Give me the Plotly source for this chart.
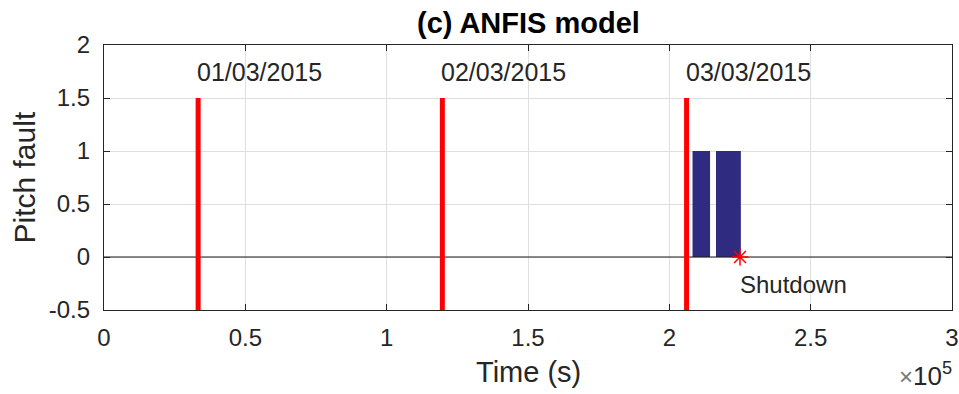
import plotly.graph_objects as go

# ---- data ----
day_marks_t = [33300, 119700, 206100]          # s
day_labels = ["01/03/2015", "02/03/2015", "03/03/2015"]
day_mark_top = 1.5
day_mark_bottom = -0.5

fault_t = [0, 208200, 208200, 214400, 214400, 216500, 216500, 225300, 225300, 300000]
fault_v = [0, 0, 1, 1, 0, 0, 1, 1, 0, 0]

shutdown_t = [225000]
shutdown_v = [0]

x_tickvals = [0, 50000, 100000, 150000, 200000, 250000, 300000]
x_ticktext = ["0", "0.5", "1", "1.5", "2", "2.5", "3"]
y_tickvals = [-0.5, 0, 0.5, 1, 1.5, 2]
y_ticktext = ["-0.5", "0", "0.5", "1", "1.5", "2"]

FONT = "Arial, Liberation Sans, Helvetica, sans-serif"
TXT = "#262626"

fig = go.Figure()

# fault signal (filled area)
fig.add_trace(go.Scatter(
    x=fault_t, y=fault_v, mode="lines", line=dict(width=0, color="#2E2B80"),
    fill="tozeroy", fillcolor="#2E2B80", showlegend=False, hoverinfo="skip"))

# zero line
fig.add_trace(go.Scatter(
    x=[x_tickvals[0], x_tickvals[-1]], y=[0, 0], mode="lines",
    line=dict(color="#1a1a1a", width=1.2), showlegend=False))

# day marker lines
for t in day_marks_t:
    fig.add_trace(go.Scatter(
        x=[t, t], y=[day_mark_bottom, day_mark_top], mode="lines",
        line=dict(color="#FF0000", width=5), showlegend=False))

# shutdown marker
fig.add_trace(go.Scatter(
    x=shutdown_t, y=shutdown_v, mode="markers",
    marker=dict(symbol="asterisk-open", size=14, color="#FF0000",
                line=dict(color="#FF0000", width=1.5)),
    showlegend=False))

annotations = []
for t, lab in zip(day_marks_t, day_labels):
    annotations.append(dict(x=t, y=1.75, xref="x", yref="y", text=lab, showarrow=False,
                            xanchor="left", yanchor="middle", xshift=-3,
                            font=dict(family=FONT, size=25, color=TXT)))
annotations.append(dict(x=shutdown_t[0], y=shutdown_v[0], xref="x", yref="y", text="Shutdown",
                        showarrow=False, xanchor="left", yanchor="middle", xshift=-2, yshift=-27,
                        font=dict(family=FONT, size=24, color=TXT)))
annotations.append(dict(x=0.5, y=1, xref="paper", yref="paper", text="<b>(c) ANFIS model</b>",
                        showarrow=False, xanchor="center", yanchor="middle", yshift=22,
                        font=dict(family=FONT, size=29, color="#000000")))
annotations.append(dict(x=0.5, y=0, xref="paper", yref="paper", text="Time (s)",
                        showarrow=False, xanchor="center", yanchor="middle", yshift=-62,
                        font=dict(family=FONT, size=29, color=TXT)))
annotations.append(dict(x=0, y=0.5, xref="paper", yref="paper", text="Pitch fault",
                        showarrow=False, xanchor="center", yanchor="middle", xshift=-80,
                        textangle=-90, font=dict(family=FONT, size=30, color=TXT)))
annotations.append(dict(x=1, y=0, xref="paper", yref="paper",
                        text="<span style='font-size:24px;color:#777777'>×</span>10<sup>5</sup>",
                        showarrow=False, xanchor="right", yanchor="middle", yshift=-64, xshift=2,
                        font=dict(family=FONT, size=26, color=TXT)))

fig.update_layout(
    width=959, height=394,
    margin=dict(l=104, r=7, t=45, b=84, autoexpand=False),
    paper_bgcolor="white", plot_bgcolor="white",
    showlegend=False,
    annotations=annotations,
    font=dict(family=FONT, size=24, color=TXT),
)
fig.update_xaxes(
    range=[x_tickvals[0], x_tickvals[-1]], tickvals=x_tickvals, ticktext=x_ticktext,
    showgrid=True, gridcolor="#DFDFDF", gridwidth=1, zeroline=False, automargin=False,
    showline=True, linecolor="#262626", linewidth=1.3, mirror="ticks",
    ticks="inside", ticklen=6, tickcolor="#262626",
    tickfont=dict(family=FONT, size=24, color=TXT), ticklabelstandoff=6)
fig.update_yaxes(
    range=[y_tickvals[0], y_tickvals[-1]], tickvals=y_tickvals, ticktext=y_ticktext,
    showgrid=True, gridcolor="#DFDFDF", gridwidth=1, zeroline=False, automargin=False,
    showline=True, linecolor="#262626", linewidth=1.3, mirror="ticks",
    ticks="inside", ticklen=6, tickcolor="#262626",
    tickfont=dict(family=FONT, size=24, color=TXT), ticklabelstandoff=8)

fig.write_html("out.html")
